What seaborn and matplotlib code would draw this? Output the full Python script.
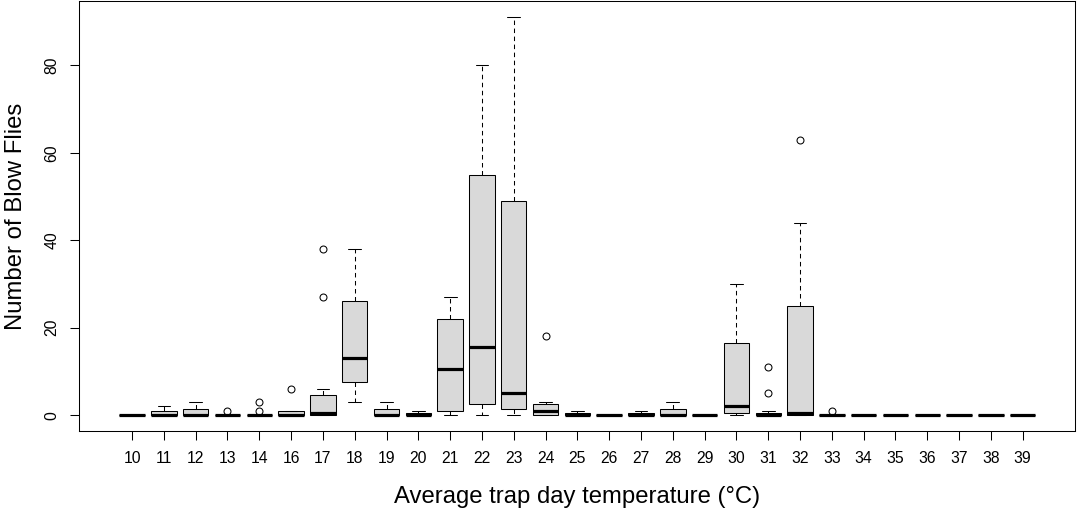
import matplotlib
matplotlib.use("Agg")
import matplotlib.pyplot as plt
import seaborn as sns
import pandas as pd

# ---- data (five-number summaries per temperature) ----
temps = ["10", "11", "12", "13", "14", "16", "17", "18", "19", "20", "21", "22",
         "23", "24", "25", "26", "27", "28", "29", "30", "31", "32", "33", "34",
         "35", "36", "37", "38", "39"]
whisker_low = [0, 0, 0, 0, 0, 0, 0, 3, 0, 0, 0, 0, 0, 0, 0, 0, 0, 0, 0, 0, 0, 0,
               0, 0, 0, 0, 0, 0, 0]
q1 = [0, 0, 0, 0, 0, 0, 0, 7.5, 0, 0, 1, 2.5, 1.5, 0, 0, 0, 0, 0, 0, 0.5, 0, 0,
      0, 0, 0, 0, 0, 0, 0]
median = [0, 0, 0, 0, 0, 0, 0.5, 13, 0, 0, 10.5, 15.5, 5, 1, 0, 0, 0, 0, 0, 2,
          0, 0.5, 0, 0, 0, 0, 0, 0, 0]
q3 = [0, 1, 1.5, 0, 0, 1, 4.5, 26, 1.5, 0.5, 22, 55, 49, 2.5, 0.5, 0, 0.5, 1.5,
      0, 16.5, 0.5, 25, 0, 0, 0, 0, 0, 0, 0]
whisker_high = [0, 2, 3, 0, 0, 1, 6, 38, 3, 1, 27, 80, 91, 3, 1, 0, 1, 3, 0, 30,
                1, 44, 0, 0, 0, 0, 0, 0, 0]
outliers = {"13": [1], "14": [1, 3], "16": [6], "17": [27, 38], "24": [18],
            "31": [5, 11], "32": [63], "33": [1]}


def observations(lo, a, m, b, hi, out):
    # 13 values whose linear quartiles equal (a, m, b) and whose
    # whisker ends / outliers match the read summary
    top = [hi] * (3 - len(out)) + sorted(out)
    return [lo, a, a, a, m, m, m, b, b, b] + top


rows = []
for i, t in enumerate(temps):
    vals = observations(whisker_low[i], q1[i], median[i], q3[i],
                        whisker_high[i], outliers.get(t, []))
    rows += [(t, v) for v in vals]
df = pd.DataFrame(rows, columns=["temp", "count"])

# ---- plotting ----
sns.set_style("white")
plt.rcParams["font.family"] = ["Liberation Sans", "DejaVu Sans"]

fig = plt.figure(figsize=(10.77, 5.12), dpi=100)
ax = fig.add_axes([0.0736, 0.1582, 0.9250, 0.8393])

sns.boxplot(
    data=df, x="temp", y="count", order=temps, ax=ax,
    color="#D9D9D9", saturation=1, linecolor="black", linewidth=0.75,
    width=0.8, whis=1.5, fliersize=5,
    flierprops=dict(marker="o", markerfacecolor="none",
                    markeredgecolor="black", markeredgewidth=0.75),
    whiskerprops=dict(linestyle=(0, (4.3, 3.4)), color="black"),
    capprops=dict(color="black"),
    medianprops=dict(linewidth=2.3, color="black"),
)

ax.set_xlim(-1.66, 29.66)
ax.set_ylim(-3.64, 94.64)
ax.set_yticks([0, 20, 40, 60, 80])

for s in ax.spines.values():
    s.set_visible(True)
    s.set_color("black")
    s.set_linewidth(0.75)

ax.tick_params(axis="both", which="major", direction="out", length=6.5,
               width=0.75, color="black", labelsize=11.3, labelcolor="black",
               bottom=True, left=True, pad=8)
for lab in ax.get_yticklabels():
    lab.set_rotation(90)
    lab.set_va("center")

ax.set_xlabel("Average trap day temperature (°C)", fontsize=17.2, color="black")
ax.set_ylabel("Number of Blow Flies", fontsize=17.2, color="black")
ax.xaxis.set_label_coords(0.5, -0.128)
ax.yaxis.set_label_coords(-0.052, 0.5)
ax.grid(False)

fig.savefig("out.png", dpi=100, facecolor="white")
